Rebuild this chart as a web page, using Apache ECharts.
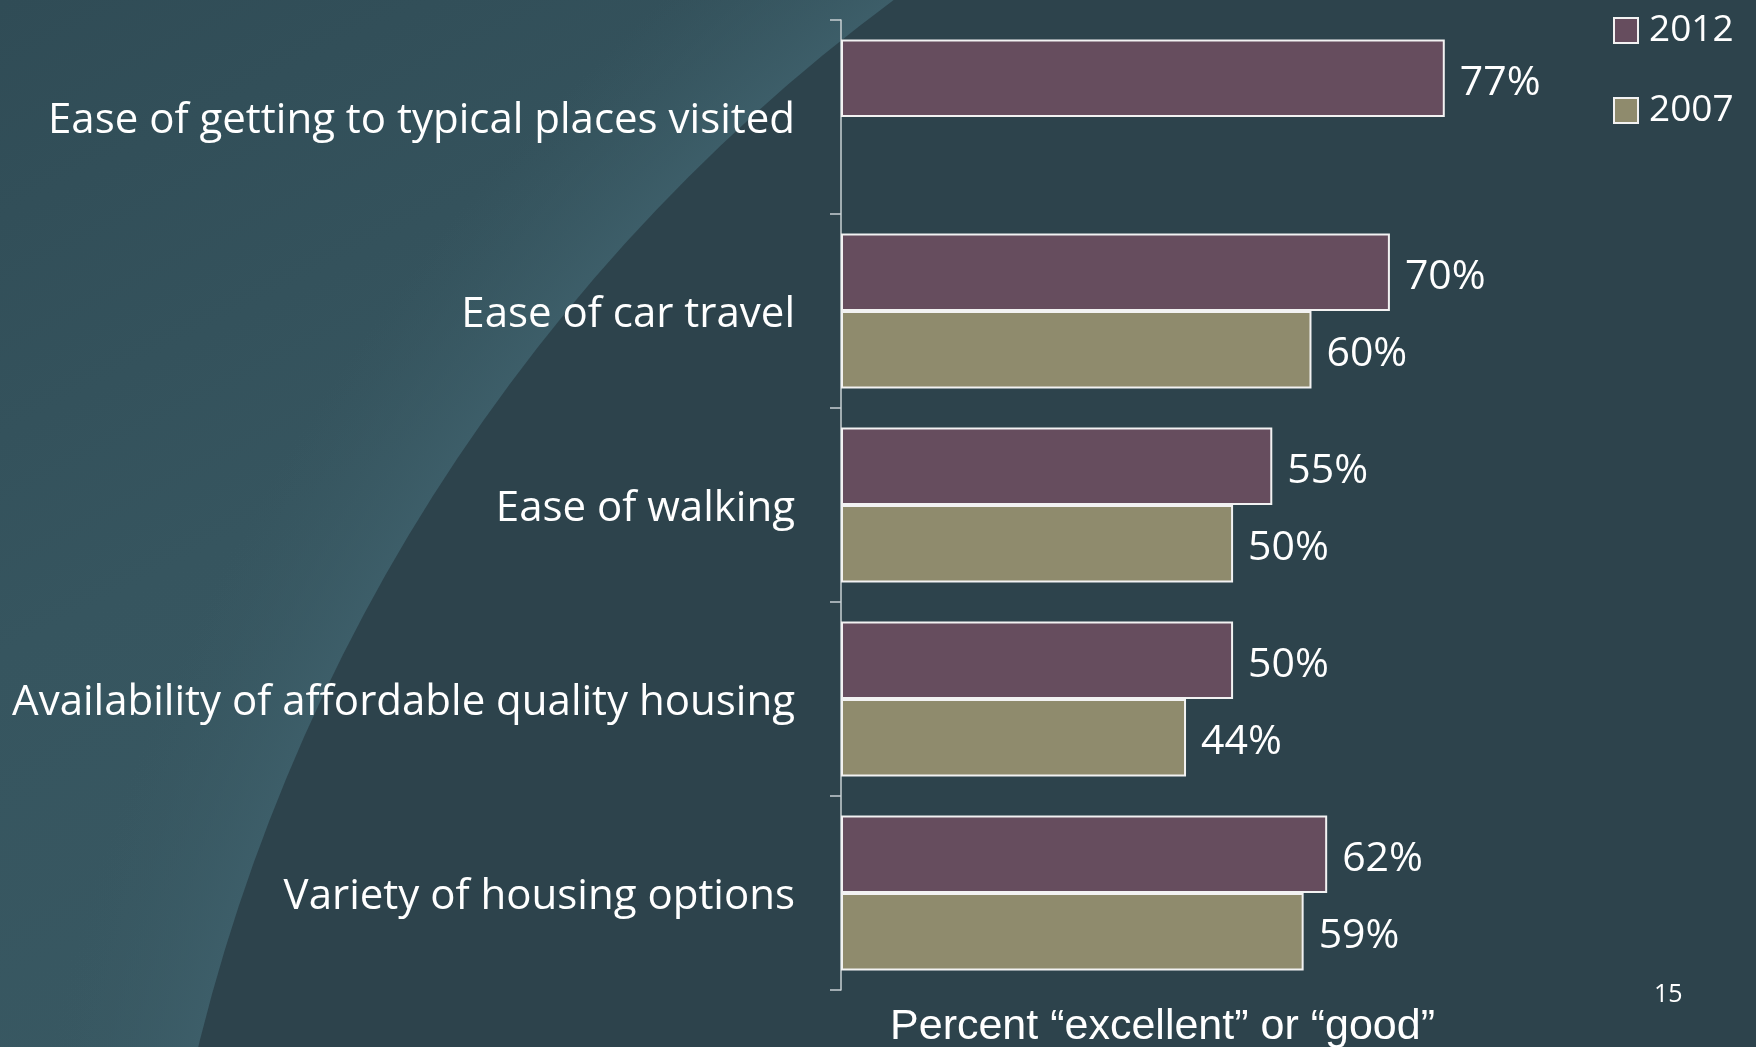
<!DOCTYPE html>
<html>
<head>
<meta charset="utf-8">
<script src="https://cdn.jsdelivr.net/npm/echarts@6/dist/echarts.min.js"></script>
<style>html,body{margin:0;padding:0;background:#2d434c;}#c{width:1756px;height:1047px;}</style>
</head>
<body>
<div id="c"></div>
<script>
const categories = [
  'Ease of getting to typical places visited',
  'Ease of car travel',
  'Ease of walking',
  'Availability of affordable quality housing',
  'Variety of housing options'
];
const values2012 = [77, 70, 55, 50, 62];
const values2007 = ['-', 60, 50, 44, 59];
const seriesNames = ['2012', '2007'];
const axisTitle = 'Percent \u201Cexcellent\u201D or \u201Cgood\u201D';
const pageNumber = '15';

const chart = echarts.init(document.getElementById('c'));
const font = 'Open Sans';
const barBorder = { borderColor: '#f2f2f2', borderWidth: 2 };
const valueLabel = { show: true, position: 'right', distance: 15, offset: [0, 5], formatter: '{c}%', color: '#ffffff',
  fontSize: 41, fontFamily: font };
chart.setOption({
  backgroundColor: '#35535d',
  animation: false,
  graphic: [
    { type: 'rect', z: -100, silent: true, shape: { x: 0, y: 0, width: 1756, height: 1047 },
      style: { fill: { type: 'linear', x: 0, y: 0, x2: 0.3, y2: 1, colorStops: [
        { offset: 0, color: '#304c56' }, { offset: 0.5, color: '#36555f' }, { offset: 1, color: '#395963' } ] } } },
    { type: 'circle', z: -99, silent: true, shape: { cx: 1998, cy: 1488, r: 2000 },
      style: { fill: { type: 'radial', x: 0.5, y: 0.5, r: 0.5, colorStops: [
        { offset: 0, color: '#3d5e69' }, { offset: 0.925, color: '#3d5e69' }, { offset: 1, color: 'rgba(57,89,99,0)' } ] } } },
    { type: 'circle', z: -98, silent: true, shape: { cx: 1998, cy: 1488, r: 1853 },
      style: { fill: '#2d434c' } },
    { type: 'text', z: 10, left: 1654, top: 982,
      style: { text: pageNumber, fill: '#ffffff', font: '25px "Open Sans"' } }
  ],
  legend: {
    data: seriesNames,
    orient: 'vertical',
    left: 1608,
    top: 7,
    itemWidth: 24,
    itemHeight: 25,
    itemGap: 43,
    icon: 'rect',
    textStyle: { color: '#ffffff', fontSize: 37, fontFamily: font, lineHeight: 30, padding: [0, 0, 0, 6] }
  },
  grid: { left: 841, top: 20, width: 643, height: 970, outerBoundsMode: 'none' },
  xAxis: {
    type: 'value', min: 0, max: 82,
    axisLine: { show: false }, axisTick: { show: false }, axisLabel: { show: false }, splitLine: { show: false },
    name: axisTitle, nameLocation: 'middle', nameGap: 16,
    nameTextStyle: { color: '#ffffff', fontSize: 43, fontFamily: 'Liberation Sans' }
  },
  yAxis: {
    type: 'category', data: categories, inverse: true,
    axisLine: { lineStyle: { color: '#c8d0d3', width: 1.5 } },
    axisTick: { show: true, length: 11, lineStyle: { color: '#c8d0d3', width: 1.5 } },
    axisLabel: {
      margin: 46,
      formatter: function (v) { return '{c|' + v + '}'; },
      rich: { c: { color: '#ffffff', fontSize: 42, fontFamily: font, padding: [8, 0, 0, 0] } }
    }
  },
  series: [
    { name: seriesNames[0], type: 'bar', data: values2012, barGap: '0%', barCategoryGap: '20%',
      itemStyle: Object.assign({ color: '#664d5e' }, barBorder), label: valueLabel },
    { name: seriesNames[1], type: 'bar', data: values2007, barGap: '0%', barCategoryGap: '20%',
      itemStyle: Object.assign({ color: '#8f8b6d' }, barBorder), label: valueLabel }
  ]
});
</script>
</body>
</html>
